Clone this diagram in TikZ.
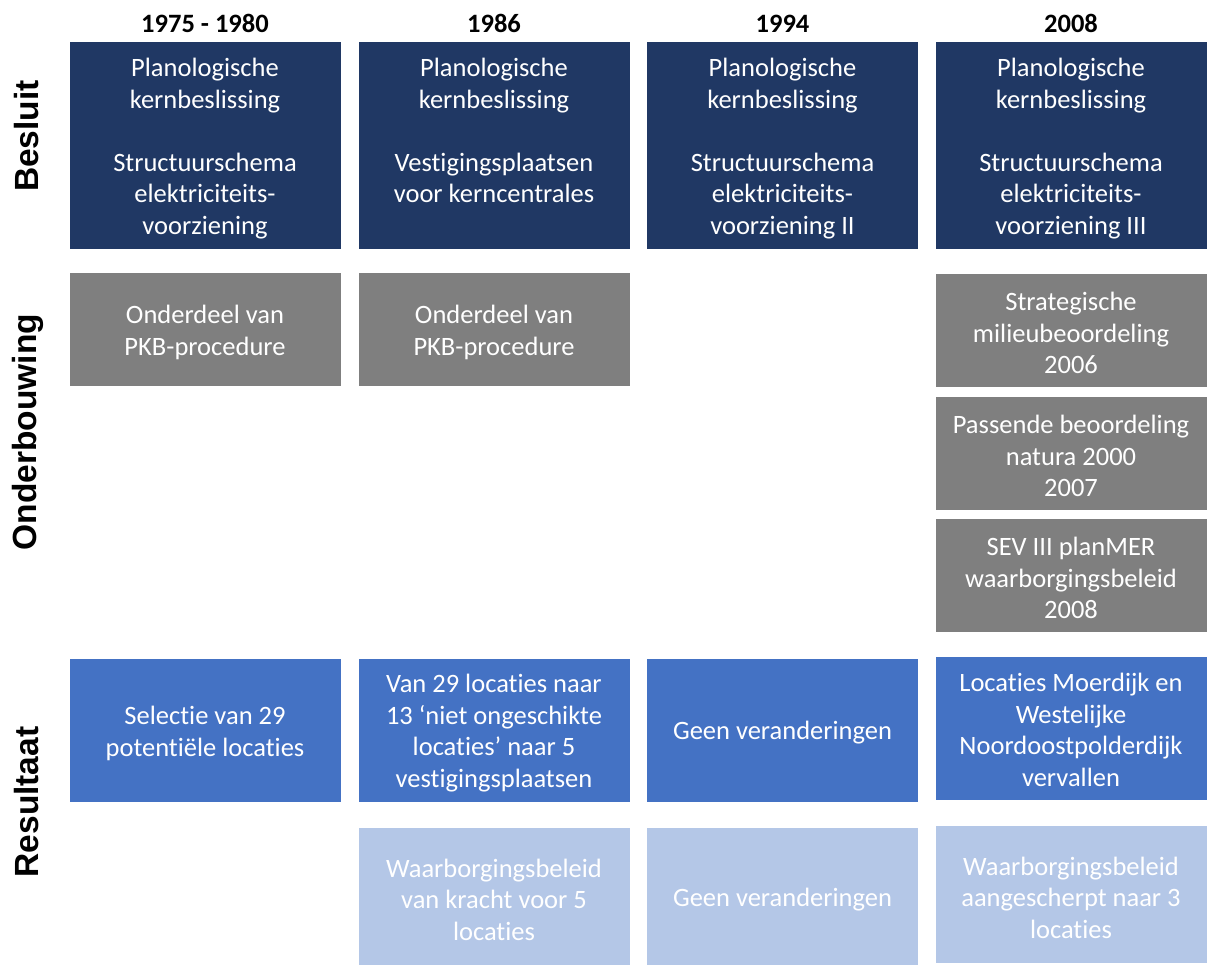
\documentclass[tikz,border=0pt]{standalone}
\usepackage{fontspec}
\setmainfont[Ligatures=NoCommon]{Carlito}
\newfontfamily\labelfont{Liberation Sans}
\definecolor{navy}{HTML}{203864}
\definecolor{greybox}{HTML}{7F7F7F}
\definecolor{midblue}{HTML}{4472C4}
\definecolor{lightblue}{HTML}{B4C7E7}
\tikzset{
  cell/.style={rectangle, inner sep=0pt, draw=white, line width=0.8pt, minimum width=272pt},
  besluit/.style={cell, fill=navy, minimum height=208pt},
  onder/.style={cell, fill=greybox, minimum height=114pt},
  res/.style={cell, fill=midblue, minimum height=144pt},
  resb/.style={cell, fill=lightblue, minimum height=138pt},
  ctext/.style={inner sep=0pt, text=white, align=center, font=\fontsize{26.5}{31.5}\selectfont},
  yearhead/.style={font=\bfseries\fontsize{26.5}{30}\selectfont, inner sep=0pt, anchor=base},
  rowlabel/.style={font=\labelfont\bfseries\fontsize{33.5}{40}\selectfont, rotate=90, inner sep=0pt}
}
\begin{document}
\begin{tikzpicture}[x=1pt,y=-1pt]
\useasboundingbox (0,0) rectangle (1211,965);
% headers
\node[yearhead] (h1) at (205,33) {1975 - 1980};
\node[yearhead] (h2) at (494,33) {1986};
\node[yearhead] (h3) at (782.5,33) {1994};
\node[yearhead] (h4) at (1071,33) {2008};
% row labels
\node[rowlabel] (l1) at (27,136) {Besluit};
\node[rowlabel] (l2) at (28,432) {Onderbouwing};
\node[rowlabel] (l3) at (27,802) {Resultaat};
% Besluit
\node[besluit] (b1) at (205,145) {};
\node[besluit] (b2) at (494,145) {};
\node[besluit] (b3) at (782.5,145) {};
\node[besluit] (b4) at (1071,145) {};
\node[ctext] (b1t) at ([yshift=-3.5pt]b1.center) {Planologische\\kernbeslissing\\[31.5pt]Structuurschema\\elektriciteits-\\voorziening};
\node[ctext] (b2t) at ([yshift=-1.5pt]b2.center) {Planologische\\kernbeslissing\\[31.5pt]Vestigingsplaatsen\\voor kerncentrales\\\mbox{}};
\node[ctext] (b3t) at ([yshift=-3.5pt]b3.center) {Planologische\\kernbeslissing\\[31.5pt]Structuurschema\\elektriciteits-\\voorziening II};
\node[ctext] (b4t) at ([yshift=-3.5pt]b4.center) {Planologische\\kernbeslissing\\[31.5pt]Structuurschema\\elektriciteits-\\voorziening III};
% Onderbouwing
\node[onder] (o1) at (205,329) {};
\node[onder] (o2) at (494,329) {};
\node[onder] (o4a) at (1071,330) {};
\node[onder] (o4b) at (1071,453) {};
\node[onder] (o4c) at (1071,575) {};
\node[ctext] (o1t) at ([yshift=-3.5pt]o1.center) {Onderdeel van\\PKB-procedure};
\node[ctext] (o2t) at ([yshift=-3.5pt]o2.center) {Onderdeel van\\PKB-procedure};
\node[ctext] (o4at) at ([yshift=-3pt]o4a.center) {Strategische\\milieubeoordeling\\2006};
\node[ctext] (o4bt) at ([yshift=-3pt]o4b.center) {Passende beoordeling\\natura 2000\\2007};
\node[ctext] (o4ct) at ([yshift=-3pt]o4c.center) {SEV III planMER\\waarborgingsbeleid\\2008};
% Resultaat row 1
\node[res] (r1) at (205,730) {};
\node[res] (r2) at (494,730) {};
\node[res] (r3) at (782.5,730) {};
\node[res] (r4) at (1071,728) {};
\node[ctext] (r1t) at ([yshift=-3.5pt]r1.center) {Selectie van 29\\potentiële locaties};
\node[ctext] (r2t) at ([yshift=-3pt]r2.center) {Van 29 locaties naar\\13 ‘niet ongeschikte\\locaties’ naar 5\\vestigingsplaatsen};
\node[ctext] (r3t) at ([yshift=-3pt]r3.center) {Geen veranderingen};
\node[ctext] (r4t) at ([yshift=-2pt]r4.center) {Locaties Moerdijk en\\Westelijke\\Noordoostpolderdijk\\vervallen};
% Resultaat row 2
\node[resb] (s2) at (494,896) {};
\node[resb] (s3) at (782.5,896) {};
\node[resb] (s4) at (1071,894) {};
\node[ctext] (s2t) at ([yshift=-3.5pt]s2.center) {Waarborgingsbeleid\\van kracht voor 5\\locaties};
\node[ctext] (s3t) at ([yshift=-3.5pt]s3.center) {Geen veranderingen};
\node[ctext] (s4t) at ([yshift=-3.5pt]s4.center) {Waarborgingsbeleid\\aangescherpt naar 3\\locaties};
\end{tikzpicture}
\end{document}
